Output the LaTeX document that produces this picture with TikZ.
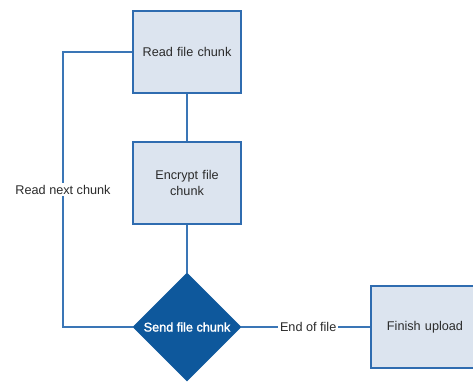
\documentclass[tikz,border=0pt]{standalone}
\usepackage{fontspec}
\setmainfont{Liberation Sans}
\newfontfamily\heavysans[FakeBold=1.6]{Liberation Sans}
\usepackage{tikz}
\usetikzlibrary{shapes.geometric,positioning,calc}
\definecolor{boxfill}{HTML}{DCE4EF}
\definecolor{boxline}{HTML}{2F6CB0}
\definecolor{wire}{HTML}{3A76B6}
\definecolor{decfill}{HTML}{0E589C}
\definecolor{txt}{HTML}{2B2B2B}
\tikzset{
	step box/.style={draw=boxline,fill=boxfill,line width=1.6pt,
		minimum width=81pt,minimum height=61.5pt,inner sep=1pt,
		align=center,text width=76pt,text=txt,font=\fontsize{9.5pt}{11.5pt}\selectfont},
	decision/.style={diamond,aspect=1,draw=decfill,fill=decfill,
		minimum size=81pt,inner sep=0pt,text=white,
		font=\heavysans\fontsize{9.5pt}{11.5pt}\selectfont},
	wire label/.style={fill=white,inner sep=1.5pt,text=txt,
		font=\fontsize{9.5pt}{11.5pt}\selectfont},
	flow/.style={draw=wire,line width=1.5pt}
}

\begin{document}
\begin{tikzpicture}[x=0.75pt,y=-0.75pt]
   \useasboundingbox (0,0) rectangle (473,381);
   \clip (0,0) rectangle (473,381);
   \node[step box] (read) at (187,52) {Read file chunk};
   \node[step box] (encrypt) at (187,183) {Encrypt file\\chunk};
   \node[decision] (send) at (187,327) {Send file chunk};
   \node[step box] (finish) at (425,327) {Finish upload};
   \coordinate (loop) at (63,52);
   \draw[flow] (read) -- (encrypt);
   \draw[flow] (encrypt) -- (send);
   \draw[flow] (send.west) -- (send.west -| loop)
      -- node[wire label] {Read next chunk} (read.west -| loop) -- (read.west);
   \draw[flow] (send.east) -- node[wire label,pos=.52] {End of file} (finish.west);
\end{tikzpicture}
\end{document}
